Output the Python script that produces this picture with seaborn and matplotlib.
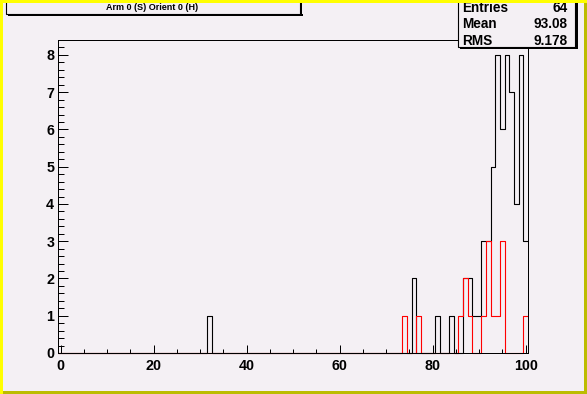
import numpy as np
import pandas as pd
import matplotlib
matplotlib.use("Agg")
import matplotlib.pyplot as plt
import seaborn as sns
from matplotlib.patches import Rectangle
from matplotlib.ticker import MultipleLocator, FixedLocator

# ---- data ----
black_bins = [32, 76, 81, 84, 87, 88, 89, 90, 91, 92, 93, 94, 95, 96, 97, 98, 99, 100]
black_counts = [1, 2, 1, 1, 2, 2, 1, 1, 3, 3, 5, 8, 6, 8, 7, 4, 8, 3]
red_bins = [74, 77, 86, 87, 88, 91, 92, 93, 94, 95, 100]
red_counts = [1, 1, 1, 2, 1, 1, 3, 1, 1, 3, 1]
title_text = "Arm 0 (S) Orient 0 (H)"
stats_labels = ["Entries", "Mean", "RMS"]
stats_values = ["64", "93.08", "9.178"]
x_ticks = [0, 20, 40, 60, 80, 100]
y_ticks = [0, 1, 2, 3, 4, 5, 6, 7, 8]

W, H = 587, 394
BG = "#f4f0f4"
FONT = "Liberation Sans"

sns.set_theme(style="white")
plt.rcParams["font.family"] = [FONT, "DejaVu Sans"]

fig = plt.figure(figsize=(W / 100, H / 100), dpi=100)
fig.patch.set_facecolor(BG)

def fx(px):
    return px / W

def fy(py):
    return 1 - py / H

left, right, top, bottom = 58.3, 528.0, 40.0, 353.0
ax = fig.add_axes([fx(left), fy(bottom), fx(right) - fx(left), fy(top) - fy(bottom)])
ax.set_facecolor(BG)

df_black = pd.DataFrame({"x": black_bins, "w": black_counts})
df_red = pd.DataFrame({"x": red_bins, "w": red_counts})

sns.histplot(data=df_black, x="x", weights="w", binwidth=1, binrange=(-0.5, 100.5),
             element="step", fill=False, color="black", linewidth=0.8, ax=ax, clip_on=False)
sns.histplot(data=df_red, x="x", weights="w", binwidth=1, binrange=(-0.5, 100.5),
             element="step", fill=False, color="#ff0000", linewidth=0.8, ax=ax, clip_on=False)

ax.set_xlim(-0.5, 100.5)
ax.set_ylim(0, 8.4)
ax.set_xlabel("")
ax.set_ylabel("")

ax.xaxis.set_major_locator(FixedLocator(x_ticks))
ax.xaxis.set_minor_locator(MultipleLocator(5))
ax.yaxis.set_major_locator(FixedLocator(y_ticks))
ax.yaxis.set_minor_locator(MultipleLocator(0.2))
ax.set_xticklabels([str(v) for v in x_ticks])
ax.set_yticklabels([str(v) for v in y_ticks])

ax.tick_params(axis="x", which="major", direction="in", length=8 * 0.72, width=0.72,
               color="black", pad=4, labelsize=10.3, bottom=True, top=False)
ax.tick_params(axis="x", which="minor", direction="in", length=4 * 0.72, width=0.72,
               color="black", bottom=True, top=False)
ax.tick_params(axis="y", which="major", direction="in", length=10 * 0.72, width=0.72,
               color="black", pad=3, labelsize=10.3, left=True, right=False)
ax.tick_params(axis="y", which="minor", direction="in", length=6 * 0.72, width=0.72,
               color="black", left=True, right=False)
for lab in ax.get_xticklabels() + ax.get_yticklabels():
    lab.set_fontweight("bold")
    lab.set_color("black")

for s in ax.spines.values():
    s.set_color("black")
    s.set_linewidth(0.72)
    s.set_visible(True)

# ---- title box ----
shadow_kw = dict(transform=fig.transFigure, facecolor="black", edgecolor="none", zorder=5)
fig.patches.append(Rectangle((fx(300), fy(15.5)), fx(2.5), fy(3) - fy(15.5), **shadow_kw))
fig.patches.append(Rectangle((fx(8), fy(15.5)), fx(302.5) - fx(8), fy(14) - fy(15.5), **shadow_kw))
fig.patches.append(Rectangle((fx(6), fy(14)), fx(300) - fx(6), fy(-2) - fy(14),
                             transform=fig.transFigure, facecolor=BG, edgecolor="black",
                             linewidth=0.8, zorder=6))
fig.text(fx(152), fy(7.5), title_text, ha="center", va="center", fontsize=6.5,
         fontweight="bold", color="black", zorder=7)

# ---- stats box ----
fig.patches.append(Rectangle((fx(575), fy(49)), fx(2.5), fy(2) - fy(49), **shadow_kw))
fig.patches.append(Rectangle((fx(460), fy(49)), fx(577.5) - fx(460), fy(47) - fy(49), **shadow_kw))
fig.patches.append(Rectangle((fx(458), fy(47)), fx(575) - fx(458), fy(-2) - fy(47),
                             transform=fig.transFigure, facecolor=BG, edgecolor="black",
                             linewidth=0.8, zorder=6))
for i, (lab, val) in enumerate(zip(stats_labels, stats_values)):
    yy = 8 + i * 16.5
    fig.text(fx(462), fy(yy), lab, ha="left", va="center", fontsize=9.8,
             fontweight="bold", color="black", zorder=7)
    fig.text(fx(568), fy(yy), val, ha="right", va="center", fontsize=9.8,
             fontweight="bold", color="black", zorder=7)

# ---- canvas border (ROOT bevel) ----
bw = 2.7
light, dark = "#ffff00", "#bcbc00"
bkw = dict(transform=fig.transFigure, edgecolor="none", zorder=10)
fig.patches.append(Rectangle((0, 0), fx(bw), 1, facecolor=light, **bkw))
fig.patches.append(Rectangle((0, 1 - bw / H), 1, bw / H, facecolor=light, **bkw))
fig.patches.append(Rectangle((1 - fx(bw), 0), fx(bw), 1 - bw / H, facecolor=dark, **bkw))
fig.patches.append(Rectangle((fx(bw), 0), 1 - fx(bw), bw / H, facecolor=dark, **bkw))

fig.savefig("out.png", dpi=100, facecolor=BG)
